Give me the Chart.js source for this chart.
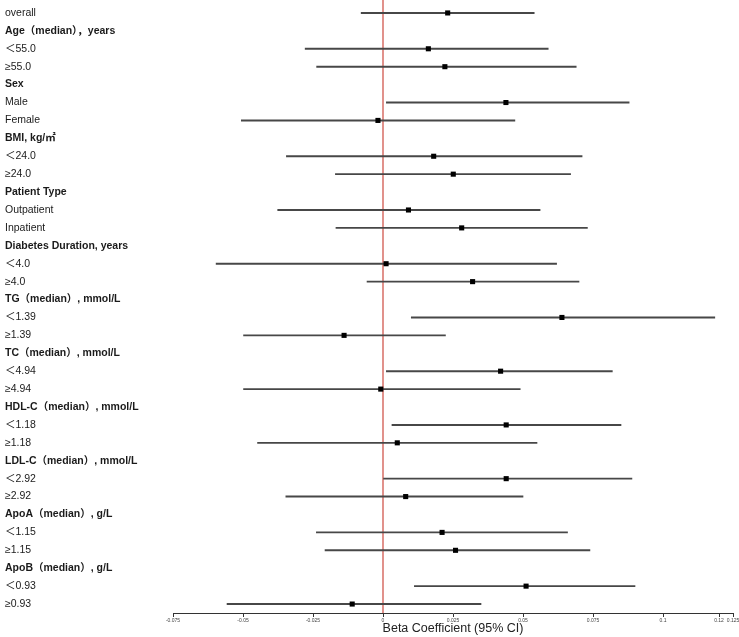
<!DOCTYPE html>
<html>
<head>
<meta charset="utf-8">
<script src="https://cdn.jsdelivr.net/npm/chart.js@4.4.0/dist/chart.umd.min.js"></script>
<style>
  html, body { margin: 0; padding: 0; background: #fff; }
  #wrap { width: 739px; height: 637px; }
</style>
</head>
<body>
<div id="wrap"><canvas id="c" width="739" height="637"></canvas></div>
<script>
const labels = [
  "overall",
  "Age（median），years", "＜55.0", "≥55.0",
  "Sex", "Male", "Female",
  "BMI, kg/㎡", "＜24.0", "≥24.0",
  "Patient Type", "Outpatient", "Inpatient",
  "Diabetes Duration, years", "＜4.0", "≥4.0",
  "TG（median）, mmol/L", "＜1.39", "≥1.39",
  "TC（median）, mmol/L", "＜4.94", "≥4.94",
  "HDL-C（median）, mmol/L", "＜1.18", "≥1.18",
  "LDL-C（median）, mmol/L", "＜2.92", "≥2.92",
  "ApoA（median）, g/L", "＜1.15", "≥1.15",
  "ApoB（median）, g/L", "＜0.93", "≥0.93"
];
const estimate = [
  0.0231,
  null, 0.0162, 0.0221,
  null, 0.0439, -0.0018,
  null, 0.0181, 0.0251,
  null, 0.0091, 0.0281,
  null, 0.0011, 0.0320,
  null, 0.0639, -0.0139,
  null, 0.0420, -0.0008,
  null, 0.0440, 0.0051,
  null, 0.0440, 0.0081,
  null, 0.0211, 0.0259,
  null, 0.0511, -0.0110
];
const lower = [
  -0.0078,
  null, -0.0278, -0.0237,
  null, 0.0012, -0.0506,
  null, -0.0345, -0.0170,
  null, -0.0376, -0.0168,
  null, -0.0596, -0.0057,
  null, 0.0101, -0.0498,
  null, 0.0012, -0.0498,
  null, 0.0032, -0.0448,
  null, 0.0002, -0.0347,
  null, -0.0238, -0.0207,
  null, 0.0112, -0.0557
];
const upper = [
  0.0540,
  null, 0.0590, 0.0690,
  null, 0.0879, 0.0471,
  null, 0.0711, 0.0670,
  null, 0.0561, 0.0730,
  null, 0.0620, 0.0700,
  null, 0.1185, 0.0223,
  null, 0.0819, 0.0490,
  null, 0.0850, 0.0550,
  null, 0.0889, 0.0500,
  null, 0.0659, 0.0739,
  null, 0.0900, 0.0350
];
const xTicks = [-0.075, -0.05, -0.025, 0, 0.025, 0.05, 0.075, 0.1, 0.12, 0.125];
const xMin = -0.075, xMax = 0.125;
const refValue = 0;

const ciData = lower.map((l, i) => (l === null ? null : [l, upper[i]]));

const refLine = {
  id: 'refLine',
  beforeDatasetsDraw(chart) {
    const { ctx, chartArea, scales } = chart;
    const x = scales.x.getPixelForValue(refValue);
    ctx.save();
    ctx.strokeStyle = 'rgb(200,55,45)';
    ctx.lineWidth = 1.1;
    ctx.beginPath();
    ctx.moveTo(x, 0);
    ctx.lineTo(x, chartArea.bottom);
    ctx.stroke();
    ctx.restore();
  }
};

new Chart(document.getElementById('c'), {
  type: 'bar',
  data: {
    labels: labels,
    datasets: [
      {
        type: 'bar',
        data: ciData,
        backgroundColor: '#474747',
        borderWidth: 0,
        barThickness: 1.25,
        grouped: false,
        order: 2
      },
      {
        type: 'line',
        indexAxis: 'y',
        data: estimate,
        showLine: false,
        pointStyle: 'rect',
        pointRadius: 3.6,
        pointBackgroundColor: '#000',
        pointBorderWidth: 0,
        order: 1
      }
    ]
  },
  options: {
    indexAxis: 'y',
    responsive: false,
    animation: false,
    layout: { padding: { left: 5, right: 6, top: 0, bottom: 0 } },
    plugins: { legend: { display: false }, tooltip: { enabled: false } },
    scales: {
      x: {
        type: 'linear',
        min: xMin,
        max: xMax,
        afterBuildTicks: (scale) => { scale.ticks = xTicks.map(v => ({ value: v })); },
        afterFit: (scale) => { scale.height = 24; scale.paddingLeft = 0; scale.paddingRight = 0; },
        ticks: {
          autoSkip: false,
          maxRotation: 0,
          padding: 1,
          color: '#444',
          font: { family: 'Liberation Sans, Arial, sans-serif', size: 5 },
          callback: (v) => String(v)
        },
        grid: { drawOnChartArea: false, drawTicks: true, tickLength: 4, color: '#333' },
        border: { display: true, color: '#333', width: 1 },
        title: {
          display: true,
          text: 'Beta Coefficient (95% CI)',
          color: '#222',
          padding: { top: 0, bottom: 1 },
          font: { family: 'Liberation Sans, Arial, sans-serif', size: 12.5 }
        }
      },
      y: {
        type: 'category',
        afterFit: (scale) => { scale.width = 168; scale.paddingTop = 0; scale.paddingBottom = 0; },
        grid: { display: false },
        border: { display: false },
        ticks: {
          autoSkip: false,
          crossAlign: 'far',
          padding: 0,
          color: '#1a1a1a',
          font: (ctx) => ({
            family: 'Liberation Sans, Arial, "Noto Sans CJK SC", sans-serif',
            size: 10.5,
            weight: estimate[ctx.index] === null ? 'bold' : 'normal'
          })
        }
      }
    }
  },
  plugins: [refLine]
});
</script>
</body>
</html>
